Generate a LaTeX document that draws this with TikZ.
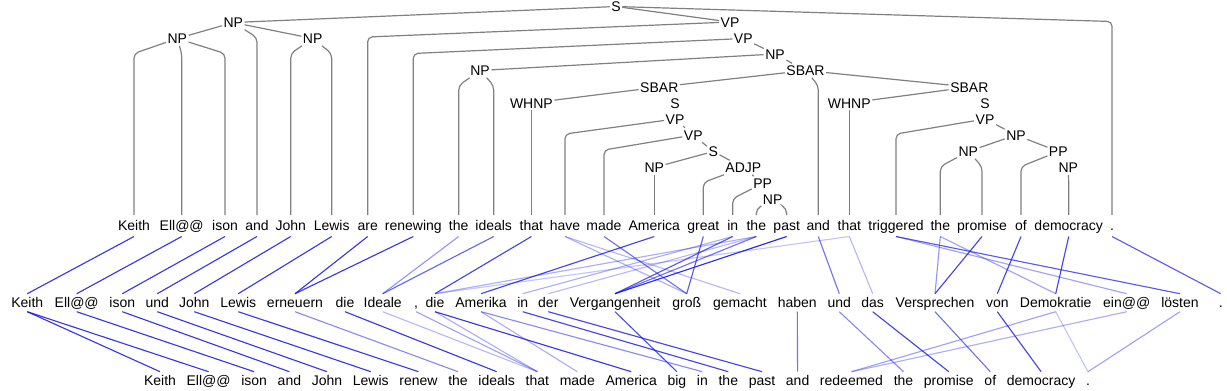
\documentclass[tikz,border=0pt]{standalone}
\usepackage{fontspec}
\setmainfont{Liberation Sans}
\usetikzlibrary{calc}
\definecolor{treegray}{RGB}{128,128,128}
\definecolor{alblue}{RGB}{20,20,235}
\tikzset{
  lbl/.style={font=\fontsize{10.5pt}{12pt}\selectfont, inner xsep=1pt, inner ysep=1.5pt, text height=7.5pt, text depth=0pt},
  wd/.style={font=\fontsize{10.5pt}{12pt}\selectfont, inner sep=0pt, anchor=base},
  br/.style={draw=treegray, line width=0.9pt, rounded corners=3.5pt},
  al/.style={draw=alblue, line width=0.85pt}
}
\newcommand\tleaf[3][15]{\draw[br] (#2) -- ($(#3 |- #2)+(0,#1)$) -- ($(#3.base)+(0,-15)$);}
\newcommand\alA[3]{\draw[al,draw opacity=#3] ($(#1.base)+(0,6.5)$) -- ($(#2.base)+(0,-14)$);}
\newcommand\alB[3]{\draw[al,draw opacity=#3] ($(#1.base)+(0,4)$) -- ($(#2.base)+(0,-13.3)$);}
\begin{document}
\begin{tikzpicture}[x=0.75pt,y=-0.75pt]
\useasboundingbox (0,0) rectangle (1227,390);
% ---------- tree labels ----------
\node[lbl] (S) at (616,6.5) {S};
\node[lbl] (NPa) at (233.3,22.5) {NP};
\node[lbl] (NPb) at (177.3,38.5) {NP};
\node[lbl] (NPc) at (312.7,38.5) {NP};
\node[lbl] (VPa) at (730,22) {VP};
\node[lbl] (VPb) at (743.3,38.5) {VP};
\node[lbl] (NPd) at (775,54) {NP};
\node[lbl] (NPe) at (480,70.5) {NP};
\node[lbl] (SBARa) at (805.5,70.5) {SBAR};
\node[lbl] (SBARb) at (659.3,87) {SBAR};
\node[lbl] (SBARc) at (969.3,87) {SBAR};
\node[lbl] (WHNPa) at (531.4,103) {WHNP};
\node[lbl] (Sb) at (675,103) {S};
\node[lbl] (VPc) at (675,119) {VP};
\node[lbl] (VPd) at (693.3,135) {VP};
\node[lbl] (Sc) at (713.3,151.5) {S};
\node[lbl] (NPf) at (654.3,167.5) {NP};
\node[lbl] (ADJP) at (743.3,167.5) {ADJP};
\node[lbl] (PPa) at (762.7,183.5) {PP};
\node[lbl] (NPg) at (772.7,199.8) {NP};
\node[lbl] (WHNPb) at (849.3,103) {WHNP};
\node[lbl] (Sd) at (985,103) {S};
\node[lbl] (VPe) at (985,119) {VP};
\node[lbl] (NPh) at (1016,135) {NP};
\node[lbl] (NPi) at (968.3,151.5) {NP};
\node[lbl] (PPb) at (1058.3,151.5) {PP};
\node[lbl] (NPj) at (1068.3,167.5) {NP};
% ---------- row 1 (source) ----------
\node[wd] (a1) at (134,230) {Keith};
\node[wd] (a2) at (181.7,230) {Ell@@};
\node[wd] (a3) at (225,230) {ison};
\node[wd] (a4) at (257,230) {and};
\node[wd] (a5) at (290.7,230) {John};
\node[wd] (a6) at (331.7,230) {Lewis};
\node[wd] (a7) at (367.7,230) {are};
\node[wd] (a8) at (413.3,230) {renewing};
\node[wd] (a9) at (458.7,230) {the};
\node[wd] (a10) at (493.7,230) {ideals};
\node[wd] (a11) at (531.4,230) {that};
\node[wd] (a12) at (565,230) {have};
\node[wd] (a13) at (604,230) {made};
\node[wd] (a14) at (654.3,230) {America};
\node[wd] (a15) at (703.3,230) {great};
\node[wd] (a16) at (732.7,230) {in};
\node[wd] (a17) at (756.3,230) {the};
\node[wd] (a18) at (786.7,230) {past};
\node[wd] (a19) at (818.3,230) {and};
\node[wd] (a20) at (849.3,230) {that};
\node[wd] (a21) at (896,230) {triggered};
\node[wd] (a22) at (940.3,230) {the};
\node[wd] (a23) at (982,230) {promise};
\node[wd] (a24) at (1021,230) {of};
\node[wd] (a25) at (1068.7,230) {democracy};
\node[wd] (a26) at (1112,230) {.};
% ---------- row 2 (German) ----------
\node[wd] (b1) at (27.3,307.7) {Keith};
\node[wd] (b2) at (76.7,307.7) {Ell@@};
\node[wd] (b3) at (122.3,307.7) {ison};
\node[wd] (b4) at (157.3,307.7) {und};
\node[wd] (b5) at (194.3,307.7) {John};
\node[wd] (b6) at (238.3,307.7) {Lewis};
\node[wd] (b7) at (295,307.7) {erneuern};
\node[wd] (b8) at (345,307.7) {die};
\node[wd] (b9) at (382.7,307.7) {Ideale};
\node[wd] (b10) at (416,307.7) {,};
\node[wd] (b11) at (435,307.7) {die};
\node[wd] (b12) at (481,307.7) {Amerika};
\node[wd] (b13) at (522.7,307.7) {in};
\node[wd] (b14) at (548.3,307.7) {der};
\node[wd] (b15) at (615,307.7) {Vergangenheit};
\node[wd] (b16) at (686.7,307.7) {groß};
\node[wd] (b17) at (740,307.7) {gemacht};
\node[wd] (b18) at (797.3,307.7) {haben};
\node[wd] (b19) at (839.3,307.7) {und};
\node[wd] (b20) at (872.7,307.7) {das};
\node[wd] (b21) at (935,307.7) {Versprechen};
\node[wd] (b22) at (997.3,307.7) {von};
\node[wd] (b23) at (1055.7,307.7) {Demokratie};
\node[wd] (b24) at (1126.7,307.7) {ein@@};
\node[wd] (b25) at (1180,307.7) {lösten};
\node[wd] (b26) at (1220.7,307.7) {.};
% ---------- row 3 (reference) ----------
\node[wd] (c1) at (160,385) {Keith};
\node[wd] (c2) at (208.6,385) {Ell@@};
\node[wd] (c3) at (254.1,385) {ison};
\node[wd] (c4) at (289.4,385) {and};
\node[wd] (c5) at (327,385) {John};
\node[wd] (c6) at (370.8,385) {Lewis};
\node[wd] (c7) at (418.5,385) {renew};
\node[wd] (c8) at (458,385) {the};
\node[wd] (c9) at (496.7,385) {ideals};
\node[wd] (c10) at (537.4,385) {that};
\node[wd] (c11) at (577.3,385) {made};
\node[wd] (c12) at (631.2,385) {America};
\node[wd] (c13) at (676.9,385) {big};
\node[wd] (c14) at (702.4,385) {in};
\node[wd] (c15) at (728.3,385) {the};
\node[wd] (c16) at (762,385) {past};
\node[wd] (c17) at (797.6,385) {and};
\node[wd] (c18) at (851.5,385) {redeemed};
\node[wd] (c19) at (903.5,385) {the};
\node[wd] (c20) at (948.8,385) {promise};
\node[wd] (c21) at (990.3,385) {of};
\node[wd] (c22) at (1041.1,385) {democracy};
\node[wd] (c23) at (1088,385) {.};
% ---------- tree branches ----------
\draw[br] (S) -- (NPa);
\draw[br] (S) -- (VPa);
\tleaf{S}{a26}
\draw[br] (NPa) -- (NPb);
\draw[br] (NPa) -- (NPc);
\tleaf{NPa}{a4}
\tleaf{NPb}{a1}
\tleaf{NPb}{a2}
\tleaf{NPb}{a3}
\tleaf{NPc}{a5}
\tleaf{NPc}{a6}
\tleaf{VPa}{a7}
\tleaf{VPb}{a8}
\draw[br] (VPb) -- (NPd);
\draw[br] (NPd) -- (NPe);
\draw[br] (NPd) -- (SBARa);
\tleaf{NPe}{a9}
\tleaf{NPe}{a10}
\draw[br] (SBARa) -- (SBARb);
\draw[br] (SBARa) -- (SBARc);
\tleaf{SBARa}{a19}
\draw[br] (SBARb) -- (WHNPa);
\tleaf{WHNPa}{a11}
\tleaf{VPc}{a12}
\draw[br] (VPc) -- (VPd);
\tleaf{VPd}{a13}
\draw[br] (VPd) -- (Sc);
\draw[br] (Sc) -- (NPf);
\draw[br] (Sc) -- (ADJP);
\tleaf{NPf}{a14}
\tleaf{ADJP}{a15}
\draw[br] (ADJP) -- (PPa);
\tleaf{PPa}{a16}
\tleaf[9]{NPg}{a17}
\tleaf[9]{NPg}{a18}
\draw[br] (SBARc) -- (WHNPb);
\tleaf{WHNPb}{a20}
\tleaf{VPe}{a21}
\draw[br] (VPe) -- (NPh);
\draw[br] (NPh) -- (NPi);
\draw[br] (NPh) -- (PPb);
\tleaf{NPi}{a22}
\tleaf{NPi}{a23}
\tleaf{PPb}{a24}
\tleaf{NPj}{a25}
% ---------- alignments row 1 -> row 2 ----------
\alA{a1}{b1}{.85}
\alA{a2}{b2}{.85}
\alA{a3}{b3}{.85}
\alA{a4}{b4}{.85}
\alA{a5}{b5}{.85}
\alA{a6}{b6}{.85}
\alA{a7}{b7}{.85}
\alA{a8}{b7}{.85}
\alA{a9}{b9}{.45}
\alA{a10}{b9}{.65}
\alA{a11}{b11}{.8}
\alA{a17}{b11}{.35}
\alA{a20}{b11}{.25}
\alA{a14}{b12}{.8}
\alA{a16}{b13}{.35}
\alA{a17}{b14}{.3}
\alA{a12}{b16}{.35}
\alA{a12}{b17}{.3}
\alA{a13}{b16}{.6}
\alA{a15}{b16}{.7}
\alA{a16}{b15}{.7}
\alA{a17}{b15}{.6}
\alA{a18}{b15}{.9}
\alA{a19}{b19}{.6}
\alA{a20}{b20}{.3}
\alA{a21}{b24}{.4}
\alA{a21}{b25}{.7}
\alA{a22}{b21}{.45}
\alA{a22}{b23}{.4}
\alA{a23}{b21}{.8}
\alA{a24}{b22}{.8}
\alA{a25}{b23}{.8}
\alA{a26}{b26}{.7}
% ---------- alignments row 2 -> row 3 ----------
\alB{b1}{c1}{.85}
\alB{b1}{c2}{.85}
\alB{b2}{c3}{.85}
\alB{b3}{c4}{.85}
\alB{b4}{c5}{.85}
\alB{b5}{c6}{.85}
\alB{b6}{c7}{.85}
\alB{b7}{c8}{.5}
\alB{b8}{c9}{.85}
\alB{b9}{c10}{.3}
\alB{b10}{c10}{.4}
\alB{b11}{c10}{.35}
\alB{b11}{c12}{.85}
\alB{b12}{c11}{.35}
\alB{b12}{c14}{.5}
\alB{b13}{c15}{.8}
\alB{b14}{c16}{.8}
\alB{b15}{c13}{.75}
\alB{b18}{c17}{.6}
\alB{b19}{c19}{.5}
\alB{b20}{c20}{.8}
\alB{b21}{c21}{.6}
\alB{b22}{c22}{.8}
\alB{b23}{c18}{.4}
\alB{b23}{c23}{.25}
\alB{b24}{c18}{.35}
\alB{b25}{c23}{.4}
\end{tikzpicture}
\end{document}
